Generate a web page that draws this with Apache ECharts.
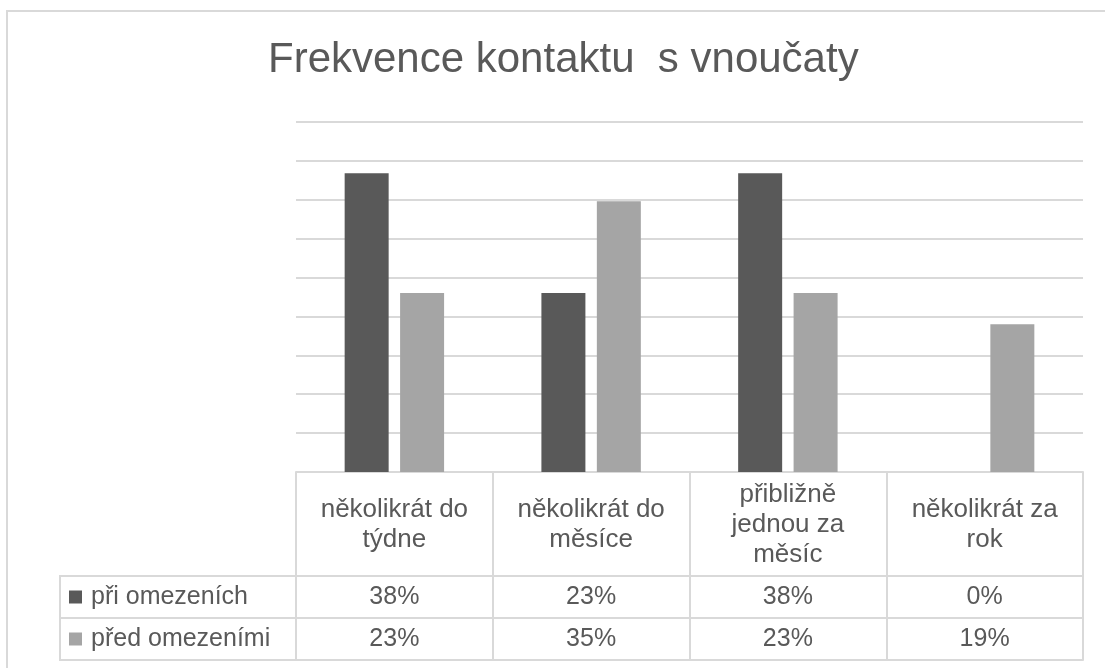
<!DOCTYPE html>
<html>
<head>
<meta charset="utf-8">
<script src="https://cdn.jsdelivr.net/npm/echarts@6/dist/echarts.min.js"></script>
<style>
html,body{margin:0;padding:0;background:#fff;}
#chart{width:1105px;height:668px;}
</style>
</head>
<body>
<div id="chart"></div>
<script>
// ---- data ----
const titleText = 'Frekvence kontaktu  s vnoučaty';
const categories = ['několikrát do\ntýdne', 'několikrát do\nměsíce', 'přibližně\njednou za\nměsíc', 'několikrát za\nrok'];
const seriesNames = ['při omezeních', 'před omezeními'];
const duringValues = [38.4, 23, 38.4, 0];
const beforeValues = [23, 34.8, 23, 19];
const seriesColors = ['#595959', '#a5a5a5'];
const yMin = 0, yMax = 45, yStep = 5;

// ---- layout ----
const FONT = '"Liberation Sans", Arial, sans-serif';
const TXT = '#595959';
const LINE = '#d9d9d9';
const plotLeft = 296, plotRight = 1083, plotTop = 122, plotBottom = 472;
const headerH = 104, rowH = 42;
const legendLeft = 60;

const allValues = [duringValues, beforeValues];
const fmt = v => Math.round(v) + '%';

const chart = echarts.init(document.getElementById('chart'), null, {renderer: 'canvas'});

const xAxes = [
  {
    type: 'category', data: categories, gridIndex: 0, position: 'bottom',
    axisLine: {show: true, lineStyle: {color: LINE, width: 2}},
    axisTick: {show: true, length: headerH + 2 * rowH, lineStyle: {color: LINE, width: 2}},
    axisLabel: {interval: 0, margin: headerH / 2 + 1, verticalAlign: 'middle', color: TXT,
      fontFamily: FONT, fontSize: 26, lineHeight: 30, align: 'center'},
    splitLine: {show: false}
  }
];
allValues.forEach((vals, si) => {
  xAxes.push({
    type: 'category', data: categories, gridIndex: 0, position: 'bottom',
    offset: headerH + si * rowH,
    axisLine: {show: true, lineStyle: {color: LINE, width: 2}},
    axisTick: {show: false},
    axisLabel: {interval: 0, margin: rowH / 2, verticalAlign: 'middle', color: TXT,
      fontFamily: FONT, fontSize: 25, formatter: (v, i) => fmt(vals[i])},
    splitLine: {show: false}
  });
});
xAxes.push({
  type: 'category', data: categories, gridIndex: 0, position: 'bottom',
  offset: headerH + allValues.length * rowH,
  axisLine: {show: true, lineStyle: {color: LINE, width: 2}},
  axisTick: {show: false}, axisLabel: {show: false}, splitLine: {show: false}
});

const graphics = [
  {type: 'rect', shape: {x: 7, y: 11, width: 1120, height: 700},
   style: {fill: 'none', stroke: '#d9d9d9', lineWidth: 2}, silent: true, z: 0},
  {type: 'rect', shape: {x: legendLeft, y: plotBottom + headerH, width: plotLeft - legendLeft, height: rowH * seriesNames.length},
   style: {fill: 'none', stroke: LINE, lineWidth: 2}, silent: true}
];
seriesNames.forEach((name, i) => {
  const cy = plotBottom + headerH + rowH * i + rowH / 2;
  if (i > 0) {
    graphics.push({type: 'line', shape: {x1: legendLeft, y1: plotBottom + headerH + rowH * i, x2: plotLeft, y2: plotBottom + headerH + rowH * i},
      style: {stroke: LINE, lineWidth: 2}, silent: true});
  }
  graphics.push({type: 'rect', shape: {x: 69, y: cy - 6.5, width: 13, height: 13},
    style: {fill: seriesColors[i]}, silent: true});
  graphics.push({type: 'text', x: 91, y: cy,
    style: {text: name, fill: TXT, font: '25px ' + FONT, textVerticalAlign: 'middle', verticalAlign: 'middle'}, silent: true});
});

chart.setOption({
  animation: false,
  backgroundColor: '#ffffff',
  title: {
    text: titleText, left: 263, top: 34,
    textStyle: {color: TXT, fontFamily: FONT, fontSize: 42, fontWeight: 'normal'}
  },
  grid: {left: plotLeft, right: 1105 - plotRight, top: plotTop, bottom: 668 - plotBottom, containLabel: false},
  xAxis: xAxes,
  yAxis: {
    type: 'value', min: yMin, max: yMax, interval: yStep,
    axisLine: {show: false}, axisTick: {show: false}, axisLabel: {show: false},
    splitLine: {show: true, lineStyle: {color: LINE, width: 2}}
  },
  series: seriesNames.map((name, i) => ({
    name: name, type: 'bar', data: allValues[i], xAxisIndex: 0,
    barWidth: 44, barGap: '26%',
    itemStyle: {color: seriesColors[i]}
  })),
  graphic: graphics
});
</script>
</body>
</html>
